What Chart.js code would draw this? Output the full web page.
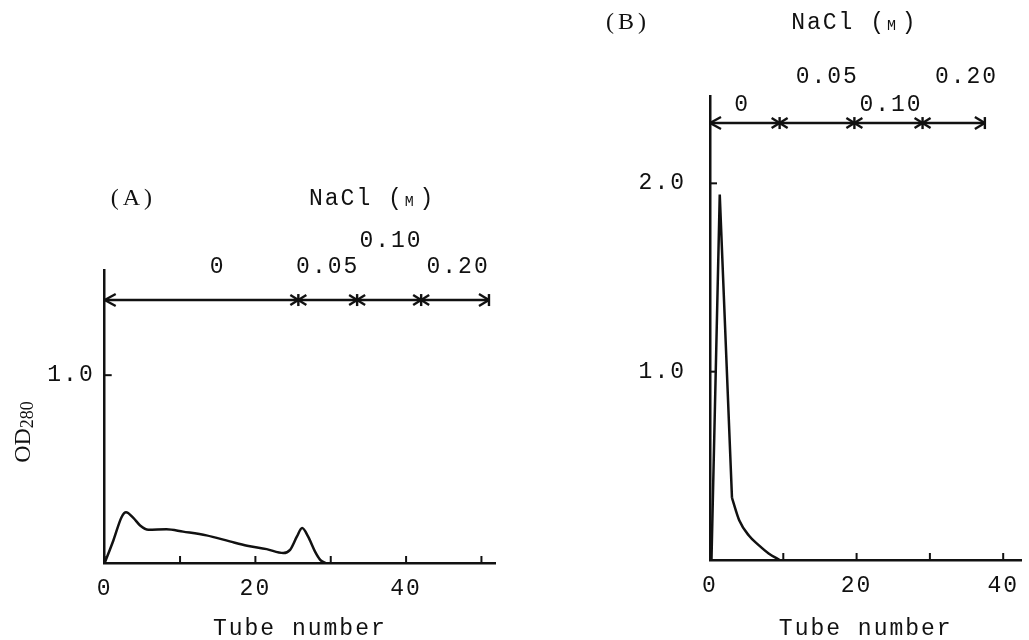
<!DOCTYPE html>
<html>
<head>
<meta charset="utf-8">
<script src="https://cdn.jsdelivr.net/npm/chart.js@4.4.0/dist/chart.umd.min.js"></script>
<style>
  body { margin: 0; background: #fff; width: 1029px; height: 640px; overflow: hidden; position: relative; }
  .panel { position: absolute; top: 0; height: 640px; }
  #boxA { left: 0; width: 515px; }
  #boxB { left: 515px; width: 514px; }
</style>
</head>
<body>
<div class="panel" id="boxA"><canvas id="chartA" width="515" height="640"></canvas></div>
<div class="panel" id="boxB"><canvas id="chartB" width="514" height="640"></canvas></div>
<script>
// ---- data, panel A ----
const tubesA = [0, 1.15, 2.25, 2.83, 3.8, 4.7, 5.8, 8.2, 10.4, 13.5, 16.6, 18.9, 21.5, 23.7, 24.6, 25.5, 26.2, 27.0, 27.9, 28.6, 29.3];
const odA    = [0, 0.12, 0.245, 0.27, 0.24, 0.20, 0.177, 0.18, 0.167, 0.147, 0.115, 0.092, 0.074, 0.053, 0.07, 0.14, 0.186, 0.14, 0.062, 0.017, 0];
const saltStepsA = [0, 25.7, 33.5, 42, 51];
const saltLabelsA = ['0', '0.05', '0.10', '0.20'];
const saltLabelAtA = [15, 29.6, 38, 46.9];
const xTicksA = [0, 10, 20, 30, 40, 50];
const yTicksA = [1.0];

// ---- data, panel B ----
const tubesB = [0.2, 1.33, 3.0, 4.0, 5.3, 6.6, 8.0, 9.5];
const odB    = [0, 1.94, 0.33, 0.21, 0.13, 0.08, 0.035, 0];
const saltStepsB = [0, 9.5, 19.7, 29, 37.5];
const saltLabelsB = ['0', '0.05', '0.10', '0.20'];
const saltLabelAtB = [4.4, 16, 24.7, 35];
const xTicksB = [0, 10, 20, 30, 40];
const yTicksB = [1.0, 2.0];

const ink = '#111';
const mono = '"Liberation Mono", monospace';
const serif = '"Liberation Serif", serif';

function pts(xs, ys) {
  return xs.map((x, i) => ({ x: x, y: ys[i] }));
}

// salt gradient bar, inward ticks and panel labels
const saltBar = {
  id: 'saltBar',
  beforeDraw(chart) {
    chart.ctx.letterSpacing = '2px';
  },
  afterDraw(chart, args, o) {
    const ctx = chart.ctx;
    const sx = chart.scales.x, sy = chart.scales.y;
    const area = chart.chartArea;
    const line = (x1, y1, x2, y2) => { ctx.beginPath(); ctx.moveTo(x1, y1); ctx.lineTo(x2, y2); ctx.stroke(); };
    const head = (px, py, dir, len, h) => {
      line(px, py, px - dir * len, py - h);
      line(px, py, px - dir * len, py + h);
    };
    ctx.save();
    ctx.strokeStyle = ink;
    ctx.fillStyle = ink;
    ctx.lineWidth = 2;

    // ticks point into the plot
    sx.ticks.forEach(t => {
      const px = sx.getPixelForValue(t.value);
      line(px, area.bottom, px, area.bottom - 7);
    });
    sy.ticks.forEach(t => {
      const py = sy.getPixelForValue(t.value);
      line(area.left, py, area.left + 7, py);
    });

    // NaCl steps
    const by = sy.getPixelForValue(o.level);
    const xs = o.steps.map(v => sx.getPixelForValue(v));
    const last = xs.length - 1;
    ctx.lineWidth = 2.4;
    line(xs[0], by, xs[last], by);
    head(xs[0], by, -1, 11, 6);
    for (let i = 1; i < last; i++) {
      head(xs[i], by, 1, 8, 5);
      head(xs[i], by, -1, 8, 5);
      line(xs[i], by - 6, xs[i], by + 6);
    }
    head(xs[last], by, 1, 10, 6);
    line(xs[last], by - 6, xs[last], by + 6);

    ctx.font = '23px ' + mono;
    ctx.textAlign = 'center';
    ctx.textBaseline = 'middle';
    o.labels.forEach((s, i) => {
      ctx.fillText(s, sx.getPixelForValue(o.labelAt[i]), by - o.rows[i]);
    });

    // header "NaCl (M)" with small-cap M
    const hx = sx.getPixelForValue(o.headerX);
    const hy = by - o.headerDy;
    const cell = ctx.measureText('0').width;
    const w1 = ctx.measureText('NaCl (').width;
    const w2 = ctx.measureText(')').width;
    let x0 = hx - (w1 + cell + w2) / 2;
    ctx.textAlign = 'left';
    ctx.fillText('NaCl (', x0, hy);
    ctx.font = '15px ' + mono;
    ctx.fillText('M', x0 + w1 + 1, hy + 3);
    ctx.font = '23px ' + mono;
    ctx.fillText(')', x0 + w1 + cell, hy);

    // panel letter
    ctx.font = '24px ' + serif;
    ctx.letterSpacing = '4px';
    ctx.textAlign = 'center';
    ctx.fillText(o.letter, sx.getPixelForValue(o.letterX), hy);

    // y title OD280
    if (o.yTitle) {
      ctx.letterSpacing = '0px';
      ctx.translate(o.yTitle.x, o.yTitle.y);
      ctx.rotate(-Math.PI / 2);
      ctx.textAlign = 'left';
      ctx.textBaseline = 'alphabetic';
      ctx.font = '24px ' + serif;
      const wOD = ctx.measureText('OD').width;
      ctx.font = '18px ' + serif;
      const wSub = ctx.measureText('280').width;
      const start = -(wOD + wSub) / 2;
      ctx.font = '24px ' + serif;
      ctx.fillText('OD', start, 8);
      ctx.font = '18px ' + serif;
      ctx.fillText('280', start + wOD, 11);
    }
    ctx.restore();
  }
};

function axisFont() {
  return { family: mono, size: 23 };
}

function makeChart(id, opts) {
  return new Chart(document.getElementById(id), {
    type: 'line',
    data: { datasets: opts.datasets },
    options: {
      responsive: false,
      animation: false,
      layout: { padding: opts.padding },
      plugins: {
        legend: { display: false },
        tooltip: { enabled: false },
        saltBar: opts.salt
      },
      scales: {
        x: {
          type: 'linear',
          min: 0,
          max: opts.xMax,
          afterBuildTicks: s => { s.ticks = opts.xTicks.map(v => ({ value: v })); },
          afterFit: s => { s.height = opts.xHeight; },
          grid: { display: false, drawTicks: false },
          border: { color: ink, width: 2.5 },
          ticks: {
            color: ink,
            font: axisFont(),
            padding: 12,
            maxRotation: 0,
            autoSkip: false,
            callback: v => (v % 20 === 0 ? String(v) : '')
          },
          title: {
            display: true,
            text: 'Tube number',
            color: ink,
            font: { family: mono, size: 23, lineHeight: 1 },
            padding: { top: 0, bottom: 0 }
          }
        },
        y: {
          min: 0,
          max: opts.yMax,
          afterBuildTicks: s => { s.ticks = opts.yTicks.map(v => ({ value: v })); },
          afterFit: s => { s.width = opts.yWidth; },
          grid: { display: false, drawTicks: false },
          border: { color: ink, width: 2.5 },
          ticks: {
            color: ink,
            font: axisFont(),
            padding: opts.yPad,
            callback: v => v.toFixed(1)
          }
        }
      }
    },
    plugins: [saltBar]
  });
}

const lineStyle = { borderColor: ink, borderWidth: 2.5, pointRadius: 0, fill: false };

makeChart('chartA', {
  datasets: [Object.assign({ data: pts(tubesA, odA), tension: 0.4, cubicInterpolationMode: 'monotone' }, lineStyle)],
  padding: { top: 270, right: 20, left: 0, bottom: 0 },
  xMax: 51.8, yMax: 1.56,
  xTicks: xTicksA, yTicks: yTicksA,
  xHeight: 77, yWidth: 104.7, yPad: 10,
  salt: {
    level: 1.40, steps: saltStepsA, labels: saltLabelsA, labelAt: saltLabelAtA,
    rows: [33, 33, 59, 33],
    headerX: 35.5, headerDy: 101,
    letter: '(A)', letterX: 3.8,
    yTitle: { x: 22, y: 432 }
  }
});

// spike drawn straight, tail drawn smooth
makeChart('chartB', {
  datasets: [
    Object.assign({ data: pts(tubesB, odB).slice(0, 3), tension: 0 }, lineStyle),
    Object.assign({ data: pts(tubesB, odB).slice(2), tension: 0.4, cubicInterpolationMode: 'monotone' }, lineStyle)
  ],
  padding: { top: 96.7, right: 0, left: 0, bottom: 0 },
  xMax: 42.5, yMax: 2.46,
  xTicks: xTicksB, yTicks: yTicksB,
  xHeight: 80, yWidth: 195, yPad: 24,
  salt: {
    level: 2.32, steps: saltStepsB, labels: saltLabelsB, labelAt: saltLabelAtB,
    rows: [18, 46, 18, 46],
    headerX: 19.7, headerDy: 100,
    letter: '(B)', letterX: -11.2,
    yTitle: null
  }
});
</script>
</body>
</html>
